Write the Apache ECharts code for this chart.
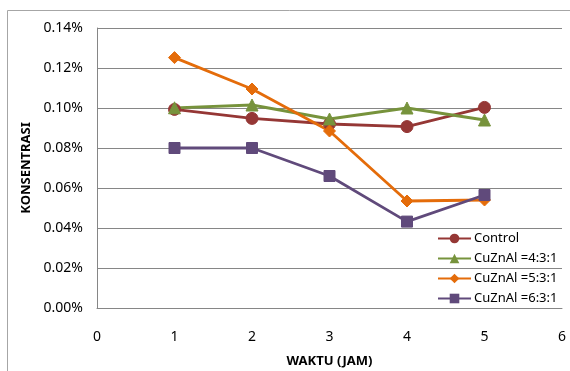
<!DOCTYPE html>
<html><head><meta charset="utf-8">
<script src="https://cdn.jsdelivr.net/npm/echarts@6/dist/echarts.min.js"></script>
<style>html,body{margin:0;padding:0;background:#fff}#c{width:570px;height:371px}</style>
</head><body><div id="c"></div>
<script>
const waktu = [1, 2, 3, 4, 5];
const seriesNames = ['Control', 'CuZnAl =4:3:1', 'CuZnAl =5:3:1', 'CuZnAl =6:3:1'];
const control = [0.0993, 0.0948, 0.0920, 0.0907, 0.1003];
const cuznal431 = [0.1001, 0.1015, 0.0945, 0.1000, 0.0940];
const cuznal531 = [0.1252, 0.1095, 0.0885, 0.0535, 0.0540];
const cuznal631 = [0.0800, 0.0800, 0.0660, 0.0432, 0.0565];
const yTicks = [0, 0.02, 0.04, 0.06, 0.08, 0.10, 0.12, 0.14];

const colors = ['#953735', '#77933C', '#E46C0A', '#604A7B'];
const symbols = ['circle', 'triangle', 'diamond', 'rect'];
const allData = [control, cuznal431, cuznal531, cuznal631];
const font = 'Noto Sans';

const chart = echarts.init(document.getElementById('c'));
chart.setOption({
  animation: false,
  textStyle: { fontFamily: font },
  graphic: [{ type: 'rect', shape: { x: 7.5, y: 10.5, width: 700, height: 500 }, style: { fill: 'none', stroke: '#a6a6a6', lineWidth: 1 }, silent: true, z: -10 }],
  grid: { left: 97, right: 8, top: 28, bottom: 63, containLabel: false, outerBoundsMode: 'none' },
  legend: {
    orient: 'vertical', left: 432, top: 227, itemWidth: 33, itemHeight: 12, itemGap: 7, padding: 5,
    textStyle: { fontFamily: font, fontSize: 13, color: '#000', padding: [0, 0, 0, -2] },
    data: seriesNames
  },
  xAxis: {
    type: 'value', min: 0, max: 6, interval: 1,
    name: 'WAKTU (JAM)', nameLocation: 'middle', nameGap: 47,
    nameTextStyle: { fontFamily: font, fontSize: 13, fontWeight: 'bold', color: '#000' },
    axisLine: { lineStyle: { color: '#868686', width: 1 } },
    axisTick: { show: false },
    splitLine: { show: false },
    axisLabel: { margin: 22, fontSize: 14, color: '#000' }
  },
  yAxis: {
    type: 'value', min: yTicks[0], max: yTicks[yTicks.length - 1], interval: 0.02,
    name: 'KONSENTRASI', nameLocation: 'middle', nameGap: 62, nameRotate: 90,
    nameTextStyle: { fontFamily: font, fontSize: 13, fontWeight: 'bold', color: '#000' },
    axisLine: { show: true, lineStyle: { color: '#868686', width: 1 } },
    axisTick: { show: false },
    splitLine: { lineStyle: { color: '#868686', width: 1 } },
    axisLabel: { margin: 14, fontSize: 14, color: '#000', formatter: v => v.toFixed(2) + '%' }
  },
  series: seriesNames.map((n, i) => ({
    name: n, type: 'line',
    data: waktu.map((x, j) => [x, allData[i][j]]),
    symbol: symbols[i], symbolSize: i === 3 ? 11 : 12,
    showAllSymbol: true,
    lineStyle: { color: colors[i], width: 2.8 },
    itemStyle: { color: colors[i], borderColor: colors[i] }
  }))
});
</script></body></html>
